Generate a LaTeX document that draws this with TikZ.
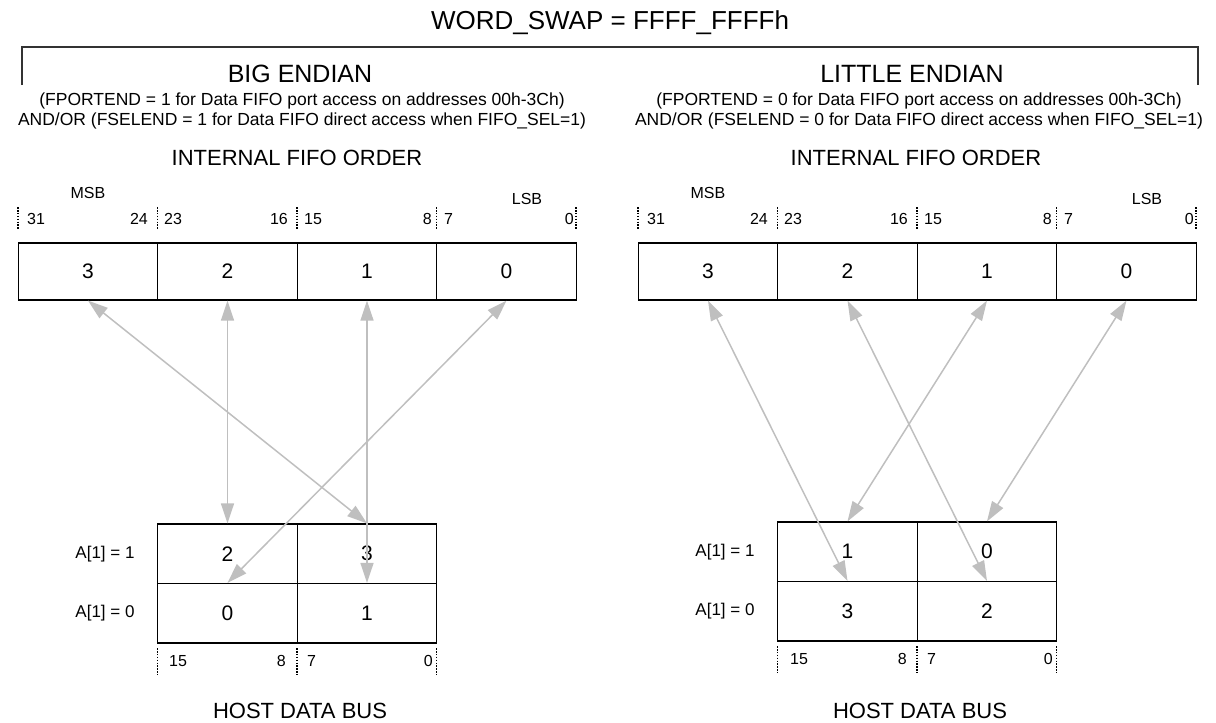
\documentclass[tikz,border=0pt]{standalone}
\usepackage{fontspec}
\setmainfont{Liberation Sans}
\usetikzlibrary{positioning,arrows.meta,calc}
\tikzstyle{tips}=[%
	 gtip/.tip = {Triangle[length=20pt, width=13pt]}]

\begin{document}
\begin{tikzpicture}[tips, x=1pt, y=-1pt]
			\def\cw{139.5pt}
			\tikzstyle{cell}=[draw, line width=1.2pt, minimum width=\cw, minimum height=57pt, inner sep=0pt, font=\fontsize{21}{24}\selectfont]
			\tikzstyle{hcell}=[cell, minimum height=59.5pt]
			\tikzstyle{bit}=[inner sep=0pt, font=\fontsize{16}{18}\selectfont]
			\tikzstyle{tick}=[line width=1.8pt, dash pattern=on 1.6pt off 1.3pt]
			\tikzstyle{lien}=[gtip-gtip, draw=black!25, line width=1.5pt]
			\tikzstyle{side}=[font=\fontsize{17}{20}\selectfont]
			\tikzstyle{head}=[font=\fontsize{22}{26}\selectfont]
			\useasboundingbox (0,0) rectangle (1216,723);
			% title and bracket
			\node[font=\fontsize{26}{30}\selectfont] (swap) at (610,23) {WORD\_SWAP = FFFF\_FFFFh};
			\draw[line width=1.2pt, black!80] (22,85) -- (22,47) -- (1198,47) -- (1198,85);
			% big endian
			\node[font=\fontsize{25}{30}\selectfont] (big) at (300,74) {BIG ENDIAN};
			\node[align=center, inner sep=0pt, font=\fontsize{17.5}{20}\selectfont] (bignote) at (302,111) {(FPORTEND = 1 for Data FIFO port access on addresses 00h-3Ch)\\AND/OR (FSELEND = 1 for Data FIFO direct access when FIFO\_SEL=1)};
			\node[head] (bigfifo) at (297,158) {INTERNAL FIFO ORDER};
			\node[bit] (bmsb) at (88,193) {MSB};
			\node[bit] (blsb) at (527,199) {LSB};
			\foreach \n/\x in {3/88,2/227.5,1/367,0/506.5}
				\node[cell] (be\n) at (\x,271.5) {\n};
			\foreach \l/\x/\a in {31/27/west,24/148/east,23/164/west,16/288/east,15/304/west,8/432/east,7/444/west,0/574/east}
				\node[bit, anchor=\a] (bt\l) at (\x,219) {\l};
			\foreach \x in {18,157.5,297,436.5,576}
				\draw[tick] (\x,207) -- (\x,230);
			\node[hcell] (bh2) at (227.5,553.75) {2};
			\node[hcell] (bh3) at (367,553.75) {3};
			\node[hcell] (bh0) at (227.5,613.25) {0};
			\node[hcell] (bh1) at (367,613.25) {1};
			\node[side] (ba1) at (105,553.75) {A[1] = 1};
			\node[side] (ba0) at (105,613.25) {A[1] = 0};
			\foreach \l/\x/\a in {15/169/west,8/286/east,7/307/west,0/433/east}
				\node[bit, anchor=\a] (bb\l) at (\x,661) {\l};
			\foreach \x in {157.5,297,436.5}
				\draw[tick] (\x,648) -- (\x,675);
			\node[head] (bbus) at (300,711) {HOST DATA BUS};
			\foreach \n in {0,...,3}
				\draw[lien] (be\n.south) -- (bh\n.north);
			% little endian
			\node[font=\fontsize{25}{30}\selectfont] (little) at (912,74) {LITTLE ENDIAN};
			\node[align=center, inner sep=0pt, font=\fontsize{17.5}{20}\selectfont] (litnote) at (919,111) {(FPORTEND = 0 for Data FIFO port access on addresses 00h-3Ch)\\AND/OR (FSELEND = 0 for Data FIFO direct access when FIFO\_SEL=1)};
			\node[head] (litfifo) at (916,158) {INTERNAL FIFO ORDER};
			\node[bit] (lmsb) at (708,193) {MSB};
			\node[bit] (llsb) at (1147,199) {LSB};
			\foreach \n/\x in {3/708,2/847.5,1/987,0/1126.5}
				\node[cell] (le\n) at (\x,271.5) {\n};
			\foreach \l/\x/\a in {31/647/west,24/768/east,23/784/west,16/908/east,15/924/west,8/1052/east,7/1064/west,0/1194/east}
				\node[bit, anchor=\a] (lt\l) at (\x,219) {\l};
			\foreach \x in {638,777.5,917,1056.5,1196}
				\draw[tick] (\x,207) -- (\x,230);
			\node[hcell] (lh1) at (847.5,551.75) {1};
			\node[hcell] (lh0) at (987,551.75) {0};
			\node[hcell] (lh3) at (847.5,611.25) {3};
			\node[hcell] (lh2) at (987,611.25) {2};
			\node[side] (la1) at (725,551.75) {A[1] = 1};
			\node[side] (la0) at (725,611.25) {A[1] = 0};
			\foreach \l/\x/\a in {15/790/west,8/907/east,7/927/west,0/1053/east}
				\node[bit, anchor=\a] (lb\l) at (\x,659) {\l};
			\foreach \x in {777.5,917,1056.5}
				\draw[tick] (\x,646) -- (\x,673);
			\node[head] (lbus) at (920,711) {HOST DATA BUS};
			\foreach \n in {0,...,3}
				\draw[lien] (le\n.south) -- (lh\n.north);
		\end{tikzpicture}
\end{document}
